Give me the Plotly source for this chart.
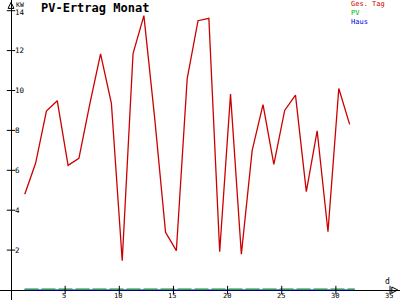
import plotly.graph_objects as go

# Data
days = [1.27, 2.27, 3.27, 4.27, 5.27, 6.27, 7.27, 8.27, 9.27, 10.27, 11.27, 12.27,
        13.27, 14.27, 15.27, 16.27, 17.27, 18.27, 19.27, 20.27, 21.27, 22.27, 23.27,
        24.27, 25.27, 26.27, 27.27, 28.27, 29.27, 30.27, 31.27]
ges_tag = [4.8, 6.35, 8.97, 9.49, 6.25, 6.6, 9.3, 11.84, 9.36, 1.47, 11.85, 13.75,
           8.6, 2.89, 1.97, 10.6, 13.5, 13.62, 1.92, 9.82, 1.79, 7.0, 9.29, 6.3,
           9.0, 9.77, 4.93, 7.98, 2.92, 10.1, 8.3]
pv_days = [1.25, 31.75]
pv_vals = [0.05, 0.05]
haus_days = [1.25, 31.75]
haus_vals = [0.0, 0.0]

x_ticks = [5, 10, 15, 20, 25, 30, 35]
y_ticks = [2, 4, 6, 8, 10, 12, 14]

title = "PV-Ertrag Monat"
legend_items = [("Ges. Tag", "#cc0000"), ("PV", "#00b000"), ("Haus", "#0000ee")]

FONT = "DejaVu Sans Mono"
X_RANGE = [-1.016, 35.92]
Y_RANGE = [-0.501, 14.536]

fig = go.Figure()

fig.add_trace(go.Scatter(x=haus_days, y=haus_vals, mode="lines",
                         line=dict(color="#0000ee", width=1.2), hoverinfo="skip"))
fig.add_trace(go.Scatter(x=pv_days, y=pv_vals, mode="lines",
                         line=dict(color="#00a000", width=1.2, dash="14px,3px"), hoverinfo="skip"))
fig.add_trace(go.Scatter(x=days, y=ges_tag, mode="lines",
                         line=dict(color="#cc0000", width=1.3), hoverinfo="skip"))

# tick marks
fig.add_trace(go.Scatter(x=x_ticks, y=[0] * len(x_ticks), mode="markers",
                         marker=dict(symbol="line-ns", size=6, line=dict(color="black", width=1)),
                         hoverinfo="skip"))
fig.add_trace(go.Scatter(x=[0] * len(y_ticks), y=y_ticks, mode="markers",
                         marker=dict(symbol="line-ew", size=6, line=dict(color="black", width=1)),
                         hoverinfo="skip"))
# axis arrows
fig.add_trace(go.Scatter(x=[0], y=[Y_RANGE[1] - 0.12], mode="markers", cliponaxis=False,
                         marker=dict(symbol="arrow-up-open", size=6, color="black",
                                     line=dict(color="black", width=1)),
                         hoverinfo="skip"))
fig.add_trace(go.Scatter(x=[X_RANGE[1] - 0.2], y=[0], mode="markers", cliponaxis=False,
                         marker=dict(symbol="arrow-right-open", size=6, color="black",
                                     line=dict(color="black", width=1)),
                         hoverinfo="skip"))

annotations = []
for t in x_ticks:
    annotations.append(dict(x=t, y=0, text=str(t), showarrow=False, xanchor="center",
                            yanchor="top", yshift=-1, borderpad=0, xshift=-1,
                            font=dict(family=FONT, size=7, color="black")))
for t in y_ticks:
    annotations.append(dict(x=0, y=t, text=str(t), showarrow=False, xanchor="left",
                            yanchor="middle", xshift=3, borderpad=0,
                            yshift=-1.5 if t == 14 else 0,
                            font=dict(family=FONT, size=7.5, color="black")))

# axis labels
annotations.append(dict(x=0, y=1, xref="x", yref="paper", text="KW", showarrow=False,
                        xanchor="left", yanchor="top", xshift=4, yshift=0, borderpad=0,
                        font=dict(family=FONT, size=6.5, color="black")))
annotations.append(dict(x=1, y=0, xref="paper", yref="y", text="d", showarrow=False,
                        xanchor="center", yanchor="bottom", xshift=-13, yshift=3, borderpad=0,
                        font=dict(family=FONT, size=8, color="black")))

# title
annotations.append(dict(x=39 / 400, y=1 - 8 / 300, xref="paper", yref="paper",
                        text="<b>" + title + "</b>",
                        showarrow=False, xanchor="left", yanchor="middle",
                        font=dict(family=FONT, size=12, color="black")))

legend_text = "<br>".join("<span style='color:%s'>%s</span>" % (c, n) for n, c in legend_items)
annotations.append(dict(x=350 / 400, y=1, xref="paper", yref="paper", text=legend_text,
                        showarrow=False, xanchor="left", yanchor="top", align="left",
                        borderpad=0, yshift=1,
                        font=dict(family=FONT, size=7, color="black")))

fig.update_layout(
    width=400, height=300,
    margin=dict(l=0, r=0, t=0, b=0),
    paper_bgcolor="white", plot_bgcolor="white",
    showlegend=False,
    annotations=annotations,
    xaxis=dict(range=X_RANGE, showgrid=False, showticklabels=False, ticks="",
               zeroline=True, zerolinecolor="black", zerolinewidth=1, fixedrange=True),
    yaxis=dict(range=Y_RANGE, showgrid=False, showticklabels=False, ticks="",
               zeroline=True, zerolinecolor="black", zerolinewidth=1, fixedrange=True),
)

fig.write_html("out.html", config={"displayModeBar": False})
